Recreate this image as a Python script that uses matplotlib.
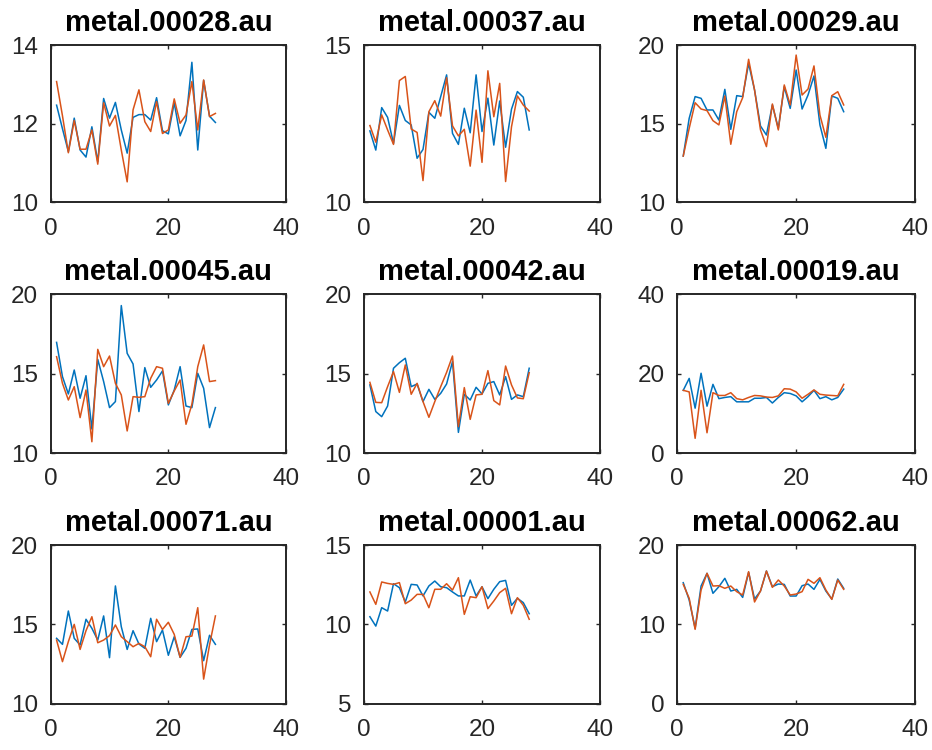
import matplotlib
matplotlib.use("Agg")
import matplotlib.pyplot as plt
import numpy as np

plt.rcParams['font.family'] = ['Liberation Sans', 'DejaVu Sans']

titles = ["metal.00028.au", "metal.00037.au", "metal.00029.au",
          "metal.00045.au", "metal.00042.au", "metal.00019.au",
          "metal.00071.au", "metal.00001.au", "metal.00062.au"]

ylims = [(10, 14), (10, 15), (10, 20),
         (10, 20), (10, 20), (0, 40),
         (10, 20), (5, 15), (0, 20)]

yticks = [[10, 12, 14], [10, 15], [10, 15, 20],
          [10, 15, 20], [10, 15, 20], [0, 20, 40],
          [10, 15, 20], [5, 10, 15], [0, 10, 20]]

xticks = [0, 20, 40]

s28_a = [12.47, 11.87, 11.29, 12.14, 11.33, 11.15, 11.92, 11.03, 12.64, 12.14,
         12.54, 11.84, 11.25, 12.16, 12.23, 12.23, 12.09, 12.66, 11.82, 11.74,
         12.53, 11.69, 12.08, 13.56, 11.33, 13.10, 12.19, 12.03]
s28_b = [13.07, 12.20, 11.26, 12.08, 11.35, 11.35, 11.84, 10.97, 12.53, 11.94,
         12.21, 11.33, 10.52, 12.35, 12.86, 12.05, 11.80, 12.56, 11.75, 11.84,
         12.63, 12.01, 12.22, 13.07, 11.84, 13.11, 12.18, 12.26]

s37_a = [12.27, 11.66, 13.01, 12.70, 11.87, 13.08, 12.60, 12.46, 11.40, 11.68,
         12.86, 12.67, 13.36, 14.05, 12.19, 11.84, 12.99, 12.21, 14.05, 12.25,
         13.31, 11.82, 13.22, 11.75, 12.96, 13.52, 13.34, 12.30]
s37_b = [12.44, 11.91, 12.78, 12.30, 11.84, 13.87, 14.00, 12.33, 12.22, 10.69,
         12.88, 13.23, 12.74, 13.96, 12.43, 12.11, 12.32, 11.15, 12.93, 11.27,
         14.18, 12.72, 13.78, 10.66, 12.40, 13.38, 13.09, 12.90]

s29_a = [12.94, 15.34, 16.72, 16.61, 15.87, 15.87, 15.23, 17.18, 14.64, 16.78,
         16.72, 18.83, 17.14, 14.85, 14.28, 16.19, 14.70, 17.35, 15.97, 18.41,
         15.93, 16.82, 18.03, 14.92, 13.43, 16.76, 16.61, 15.76]
s29_b = [12.94, 14.70, 16.33, 15.93, 15.83, 15.19, 14.92, 16.76, 13.69, 15.76,
         16.65, 19.09, 17.14, 14.60, 13.54, 16.25, 14.60, 17.46, 16.19, 19.36,
         16.82, 17.20, 18.67, 15.55, 14.13, 16.78, 17.03, 16.19]

s45_a = [16.97, 14.81, 13.72, 15.23, 13.45, 14.87, 11.51, 15.90, 14.50, 12.86,
         13.24, 19.29, 16.28, 15.61, 12.61, 15.38, 14.14, 14.60, 15.17, 13.03,
         13.97, 15.44, 12.96, 12.86, 15.02, 14.08, 11.60, 12.86]
s45_b = [16.07, 14.39, 13.34, 14.18, 12.23, 13.97, 10.71, 16.53, 15.44, 16.11,
         14.39, 13.66, 11.39, 13.55, 13.51, 13.55, 14.71, 15.44, 15.34, 13.13,
         13.91, 14.60, 11.81, 13.07, 15.44, 16.81, 14.50, 14.56]

s42_a = [14.29, 12.61, 12.29, 12.96, 15.34, 15.69, 15.97, 14.18, 14.35, 13.24,
         14.01, 13.38, 13.76, 14.35, 15.76, 11.30, 13.70, 13.34, 14.14, 13.72,
         14.39, 14.50, 13.66, 14.81, 13.38, 13.66, 13.55, 15.34]
s42_b = [14.45, 13.19, 13.17, 14.18, 15.13, 13.82, 15.55, 13.70, 14.39, 13.24,
         12.25, 13.24, 14.18, 15.08, 16.11, 11.66, 14.12, 12.12, 13.66, 13.70,
         15.19, 13.30, 13.03, 15.48, 14.29, 13.47, 13.42, 15.06]

s19_a = [15.8, 18.8, 11.3, 20.1, 11.8, 17.3, 13.7, 14.0, 14.2, 12.9,
         12.9, 12.9, 13.8, 13.8, 14.0, 12.6, 14.0, 15.2, 15.0, 14.4,
         12.9, 14.2, 15.8, 13.7, 14.2, 13.4, 14.0, 16.1]
s19_b = [15.8, 15.4, 3.7, 15.8, 5.1, 15.2, 14.5, 14.5, 15.2, 13.7,
         13.4, 14.0, 14.5, 14.4, 14.1, 14.0, 14.4, 16.2, 16.1, 15.4,
         13.8, 14.8, 15.9, 14.8, 14.6, 14.5, 14.4, 17.3]

s71_a = [14.12, 13.74, 15.84, 14.12, 13.70, 15.32, 14.75, 14.01, 15.53, 12.90,
         17.42, 14.85, 13.42, 14.60, 13.76, 13.49, 15.38, 13.91, 14.64, 13.05,
         14.22, 12.92, 13.49, 14.68, 14.71, 12.71, 14.31, 13.74]
s71_b = [14.01, 12.65, 13.91, 15.00, 13.42, 14.60, 15.48, 13.84, 14.01, 14.29,
         14.96, 14.22, 13.91, 13.59, 13.80, 13.59, 12.96, 15.32, 14.68, 15.13,
         14.37, 12.92, 14.22, 14.26, 16.05, 11.55, 13.70, 15.53]

s01_a = [10.48, 9.89, 11.05, 10.84, 12.56, 12.31, 11.41, 12.52, 12.48, 11.79,
         12.42, 12.73, 12.37, 12.31, 12.04, 11.79, 11.79, 12.79, 11.79, 12.37,
         11.62, 12.21, 12.69, 12.77, 11.20, 11.64, 11.37, 10.67]
s01_b = [12.04, 11.26, 12.67, 12.58, 12.52, 12.63, 11.30, 11.53, 11.89, 11.89,
         11.05, 12.21, 12.21, 12.56, 12.16, 12.94, 10.63, 11.74, 11.68, 12.37,
         10.99, 11.47, 12.00, 12.27, 10.67, 11.68, 11.20, 10.32]

s62_a = [15.25, 13.07, 9.50, 14.83, 16.43, 13.91, 14.75, 15.80, 14.20, 14.41,
         13.40, 16.55, 13.19, 14.20, 16.72, 14.75, 15.08, 15.04, 13.57, 13.57,
         14.87, 15.08, 14.41, 15.67, 14.20, 13.19, 15.71, 14.54]
s62_b = [15.04, 13.28, 9.37, 14.33, 16.43, 14.83, 14.87, 14.54, 14.83, 14.12,
         13.70, 16.64, 12.82, 14.20, 16.72, 14.66, 15.59, 14.83, 13.70, 13.82,
         14.12, 15.67, 15.17, 15.88, 14.33, 13.15, 15.59, 14.41]

series_a = [s28_a, s37_a, s29_a, s45_a, s42_a, s19_a, s71_a, s01_a, s62_a]
series_b = [s28_b, s37_b, s29_b, s45_b, s42_b, s19_b, s71_b, s01_b, s62_b]

blue = "#0072BD"
orange = "#D95319"
ink = "#262626"

W, H = 932, 750
fig = plt.figure(figsize=(W / 100, H / 100), dpi=100)

lefts = [50.7, 364.0, 677.3]
widths = [235.3, 236.0, 237.7]
tops = [45.0, 294.3, 545.0]
bottoms = [202.3, 453.0, 703.7]

for k in range(9):
    r, c = divmod(k, 3)
    rect = [lefts[c] / W, 1 - bottoms[r] / H, widths[c] / W,
            (bottoms[r] - tops[r]) / H]
    ax = fig.add_axes(rect)
    a = np.asarray(series_a[k])
    b = np.asarray(series_b[k])
    x = np.arange(1, len(a) + 1)
    ax.plot(x, a, color=blue, lw=1.1)
    ax.plot(x, b, color=orange, lw=1.1)
    ax.set_xlim(0, 40)
    ax.set_ylim(*ylims[k])
    ax.set_xticks(xticks)
    ax.set_yticks(yticks[k])
    ax.tick_params(direction='in', length=3, width=1.0, colors=ink,
                   labelsize=17.5, top=True, right=True,
                   labeltop=False, labelright=False)
    ax.tick_params(axis='x', pad=11)
    ax.tick_params(axis='y', pad=9)
    for sp in ax.spines.values():
        sp.set_color(ink)
        sp.set_linewidth(1.4)
    ax.set_title(titles[k], fontsize=21, fontweight='bold', color='black', pad=10)

fig.savefig("out.png", dpi=100)
